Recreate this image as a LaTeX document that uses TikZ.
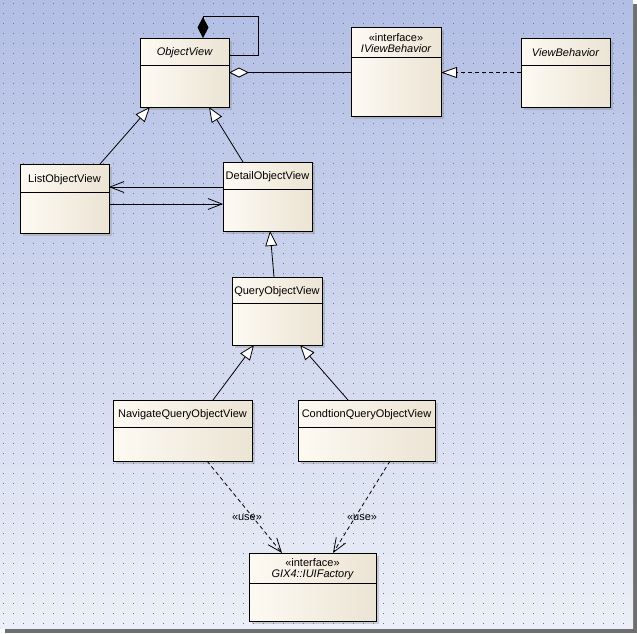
\documentclass[tikz,border=0pt]{standalone}
\usepackage{fontspec}
\setmainfont{Liberation Sans}
\usetikzlibrary{arrows.meta,calc,fit,shadows}
\definecolor{bgtop}{RGB}{178,190,228}
\definecolor{bgbot}{RGB}{236,239,247}
\definecolor{dotc}{RGB}{104,116,162}
\definecolor{clsL}{RGB}{253,250,243}
\definecolor{clsR}{RGB}{236,228,212}
\definecolor{frameshadow}{RGB}{110,110,110}
\tikzset{
  classbox/.style={draw=black, line width=1pt, inner sep=0pt, outer sep=0pt,
    left color=clsL, right color=clsR,
    drop shadow={shadow xshift=2.5pt, shadow yshift=-2.5pt, opacity=0.3}},
  classline/.style={draw=black, line width=1pt},
  clstext/.style={font=\fontsize{11}{12}\selectfont, align=center, inner sep=0pt},
  conn/.style={draw=black, line width=0.8pt},
  gen/.style={conn, -{Triangle[length=15pt,width=12pt,fill=white]}},
  nav/.style={conn, -{Straight Barb[length=14pt,width=11pt]}},
  dep/.style={conn, dash pattern=on 4pt off 3pt, -{Straight Barb[length=14pt,width=11pt]}},
  realize/.style={conn, dash pattern=on 4pt off 3pt, -{Triangle[length=16pt,width=11pt,fill=white]}},
  lbl/.style={font=\fontsize{11}{12}\selectfont, inner sep=0pt}
}
% name, x1, y1, x2, y2, ydivider, text
\newcommand\umlcls[7]{%
  \coordinate (#1-nw) at (#2,#3);
  \coordinate (#1-se) at (#4,#5);
  \node[classbox, fit=(#1-nw)(#1-se)] (#1) {};
  \draw[classline] (#2,#6) -- (#4,#6);
  \node[clstext] (#1-title) at ({(#2+#4)/2},{(#3+#6)/2+1.5}) {#7};
}
\begin{document}
\begin{tikzpicture}[x=1pt,y=-1pt]
\useasboundingbox (0,0) rectangle (637,633);
% frame and background
\fill[frameshadow] (5,4) rectangle (637,633);
\fill[top color=bgtop, bottom color=bgbot] (0,0) rectangle (633,628);
\foreach \i in {0,...,62}{
  \foreach \j in {0,...,62}{
    \fill[dotc] (3+10*\i,3+10*\j) rectangle ++(1,1);
  }
}
% classes
\umlcls{ov}{140}{38}{229}{107}{65}{\itshape ObjectView}
\umlcls{ivb}{351}{27}{441}{116}{57}{\guillemotleft interface\guillemotright\\[-1pt]\itshape IViewBehavior}
\umlcls{vb}{521}{38}{610}{107}{65}{\itshape ViewBehavior}
\umlcls{lov}{20}{164}{109}{233}{192}{ListObjectView}
\umlcls{dov}{223}{162}{312}{231}{189}{DetailObjectView}
\umlcls{qov}{232}{277}{322}{345}{303}{QueryObjectView}
\umlcls{nqov}{113}{400}{252}{461}{427}{NavigateQueryObjectView}
\umlcls{cqov}{298}{400}{435}{461}{427}{CondtionQueryObjectView}
\umlcls{gix}{249}{553}{376}{621}{583}{\guillemotleft interface\guillemotright\\[-1pt]\itshape GIX4::IUIFactory}
% self composition on ObjectView
\draw[conn, {Diamond[length=21pt,width=11pt]}-]
  ($(ov.north west)+(63,0)$) -- ++(0,-22) -| ($(ov.east)+(29,-17.5)$) -- ($(ov.east)+(0,-17.5)$);
% aggregation ObjectView -- IViewBehavior
\draw[conn, {Diamond[length=20pt,width=10pt,fill=white]}-] (ov.east) -- (ivb.west |- ov.east);
% realization ViewBehavior -> IViewBehavior
\draw[realize] (vb.west) -- (ivb.east |- vb.west);
% generalizations
\draw[gen] ($(lov.north west)+(80,0)$) -- ($(ov.south west)+(10,0)$);
\draw[gen] ($(dov.north west)+(20,0)$) -- ($(ov.south west)+(69,0)$);
\draw[gen] ($(qov.north west)+(42,0)$) -- ($(dov.south west)+(47,0)$);
\draw[gen] ($(nqov.north west)+(100,0)$) -- ($(qov.south west)+(22,0)$);
\draw[gen] ($(cqov.north west)+(50,0)$) -- ($(qov.south west)+(68,0)$);
% navigable associations
\draw[nav] ($(dov.north west)+(0,25)$) -- ($(lov.north east)+(0,23)$);
\draw[nav] ($(lov.north east)+(0,40)$) -- ($(dov.north west)+(0,42)$);
% dependencies
\draw[dep] ($(nqov.south west)+(94,0)$) -- ($(gix.north west)+(33,0)$);
\draw[dep] ($(cqov.south west)+(92,0)$) -- ($(gix.north west)+(84,0)$);
\node[lbl] (use1) at (247,518) {\guillemotleft use\guillemotright};
\node[lbl] (use2) at (362,518) {\guillemotleft use\guillemotright};
\end{tikzpicture}
\end{document}
